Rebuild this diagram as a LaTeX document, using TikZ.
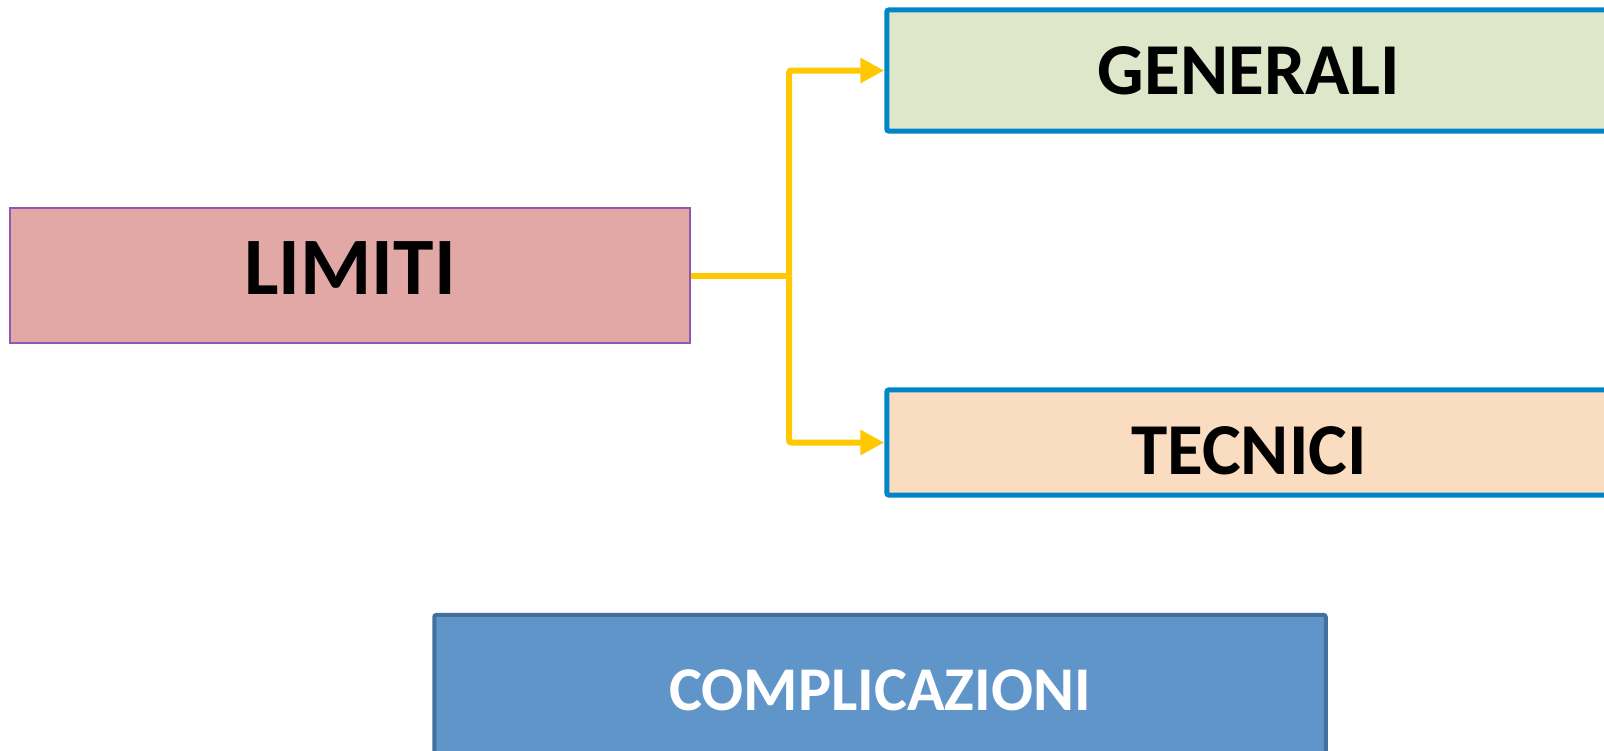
\documentclass[tikz,border=0pt]{standalone}
\usepackage{fontspec}
\setmainfont{Carlito}
\usetikzlibrary{arrows.meta}

\definecolor{limfill}{HTML}{E2A8A6}
\definecolor{limline}{HTML}{8E58B3}
\definecolor{genfill}{HTML}{DEE7CA}
\definecolor{tecfill}{HTML}{FADCC1}
\definecolor{boxline}{HTML}{0085C8}
\definecolor{compfill}{HTML}{6095C9}
\definecolor{compline}{HTML}{44709E}
\definecolor{connyellow}{HTML}{FFC800}

\begin{document}
\begin{tikzpicture}[x=0.01cm, y=-0.01cm, >={Triangle[length=0.24cm, width=0.24cm]}]

        \useasboundingbox (0, 0) rectangle (1604, 750);

        % === Main box ===
        \node[draw=limline, line width=0.02cm, fill=limfill, minimum width=6.8cm, minimum height=1.35cm, font=\bfseries\fontsize{23.2}{28}\selectfont, text height=0.53cm, text depth=0.16cm] (lim) at (350, 275.5) {LIMITI};

        % Right boxes
        \node[draw=boxline, line width=0.05cm, rounded corners=0.02cm, fill=genfill, minimum width=7.24cm, minimum height=1.21cm, font=\bfseries\fontsize{20.8}{24}\selectfont] (gen) at (1249, 70.5) {GENERALI};
        \node[draw=boxline, line width=0.05cm, rounded corners=0.02cm, fill=tecfill, minimum width=7.24cm, minimum height=1.05cm, font=\bfseries\fontsize{20.8}{24}\selectfont, text height=0.63cm, text depth=0cm] (tec) at (1249, 442.5) {TECNICI};

        % Bottom box
        \node[draw=compline, line width=0.04cm, rounded corners=0.02cm, fill=compfill, text=white, minimum width=8.91cm, minimum height=1.5cm, font=\bfseries\fontsize{17.7}{21}\selectfont] (comp) at (880, 690) {COMPLICAZIONI};

        % Connections
        \draw[connyellow, line width=0.06cm] (lim.east) -- ++(98, 0) coordinate (split);
        \draw[->, connyellow, line width=0.06cm, rounded corners=0.02cm] (split) |- (gen.west);
        \draw[->, connyellow, line width=0.06cm, rounded corners=0.02cm] (split) |- (tec.west);

    \end{tikzpicture}
\end{document}
